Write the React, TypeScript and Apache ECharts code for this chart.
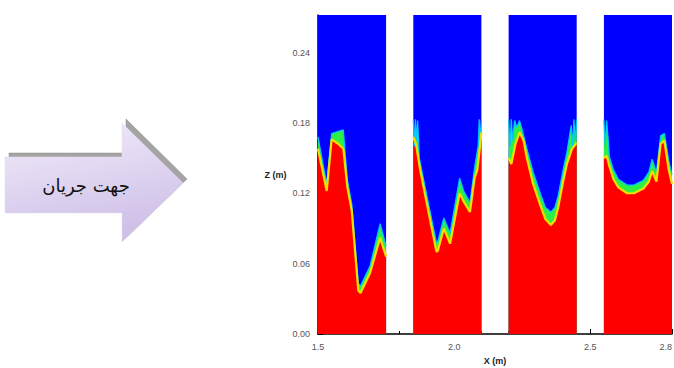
import React, { useEffect, useRef } from "react";
import * as echarts from "echarts";

// x tick labels / y tick labels
const xTicks = [1.5, 2.0, 2.5, 2.8];
const yTicks = [0.0, 0.06, 0.12, 0.18, 0.24];
const zTop = 0.272;

// panel extents (m)
const panels: [number, number][] = [
  [1.5, 1.75],
  [1.85, 2.1],
  [2.2, 2.45],
  [2.55, 2.8],
];

// red (liquid) surface per panel
const p1Red: [number, number][] = [
  [1.5, 0.158], [1.532, 0.122], [1.55, 0.166], [1.575, 0.162], [1.593, 0.158], [1.608, 0.125], [1.624, 0.105],
  [1.648, 0.037], [1.656, 0.035], [1.691, 0.052], [1.728, 0.082], [1.75, 0.066],
];
const p2Red: [number, number][] = [
  [1.85, 0.168], [1.86, 0.162], [1.875, 0.14], [1.905, 0.105], [1.935, 0.07], [1.94, 0.071],
  [1.962, 0.09], [1.985, 0.077], [2.02, 0.12], [2.035, 0.113], [2.058, 0.104], [2.075, 0.133],
  [2.085, 0.14], [2.095, 0.16], [2.1, 0.172],
];
const p3Red: [number, number][] = [
  [2.2, 0.15], [2.21, 0.145], [2.225, 0.162], [2.24, 0.172], [2.255, 0.165], [2.267, 0.15],
  [2.29, 0.128], [2.316, 0.11], [2.335, 0.098], [2.355, 0.093], [2.37, 0.097], [2.382, 0.108],
  [2.4, 0.13], [2.414, 0.145], [2.433, 0.158], [2.45, 0.163],
];
const p4Red: [number, number][] = [
  [2.55, 0.15], [2.56, 0.152], [2.57, 0.143], [2.585, 0.132], [2.603, 0.125], [2.635, 0.12],
  [2.66, 0.12], [2.695, 0.124], [2.715, 0.13], [2.727, 0.139], [2.743, 0.13], [2.758, 0.162],
  [2.772, 0.165], [2.788, 0.14], [2.8, 0.128],
];

// top of the mixing zone (green) per panel
const p1Mix: [number, number][] = [
  [1.5, 0.168], [1.532, 0.128], [1.55, 0.171], [1.593, 0.174], [1.608, 0.131], [1.624, 0.111],
  [1.648, 0.043], [1.656, 0.041], [1.691, 0.058], [1.728, 0.094], [1.75, 0.075],
];
const p2Mix: [number, number][] = [
  [1.85, 0.183], [1.854, 0.16], [1.858, 0.183], [1.862, 0.165], [1.866, 0.182], [1.872, 0.15],
  [1.905, 0.112], [1.935, 0.078], [1.94, 0.079], [1.962, 0.099], [1.985, 0.086], [2.02, 0.133],
  [2.035, 0.122], [2.058, 0.112], [2.075, 0.142], [2.088, 0.16], [2.092, 0.183], [2.096, 0.165],
  [2.1, 0.183],
];
const p3Mix: [number, number][] = [
  [2.2, 0.183], [2.205, 0.16], [2.21, 0.183], [2.215, 0.165], [2.222, 0.182], [2.23, 0.176],
  [2.24, 0.182], [2.25, 0.174], [2.267, 0.158], [2.29, 0.138], [2.316, 0.12], [2.335, 0.108],
  [2.355, 0.104], [2.37, 0.108], [2.382, 0.118], [2.4, 0.14], [2.414, 0.155], [2.43, 0.178],
  [2.435, 0.16], [2.44, 0.183], [2.445, 0.165], [2.45, 0.183],
];
const p4Mix: [number, number][] = [
  [2.55, 0.183], [2.555, 0.16], [2.56, 0.182], [2.565, 0.168], [2.57, 0.151], [2.585, 0.14],
  [2.603, 0.132], [2.635, 0.127], [2.66, 0.127], [2.695, 0.131], [2.715, 0.138], [2.727, 0.149],
  [2.743, 0.138], [2.758, 0.169], [2.772, 0.171], [2.788, 0.148], [2.8, 0.136],
];

const redSets = [p1Red, p2Red, p3Red, p4Red];
const mixSets = [p1Mix, p2Mix, p3Mix, p4Mix];

const arrowText = "جهت جریان";

export default function App() {
  const ref = useRef<HTMLDivElement>(null);
  useEffect(() => {
    if (!ref.current) return;
    const chart = echarts.init(ref.current, null, { renderer: "svg" });
    const series: any[] = [];
    panels.forEach(([a, b]) => {
      series.push({
        type: "line",
        data: [[a, zTop], [b, zTop]],
        showSymbol: false,
        lineStyle: { width: 0 },
        areaStyle: { color: "#0000fe", opacity: 1 },
        silent: true,
      });
    });
    mixSets.forEach((d) => {
      series.push({
        type: "line",
        data: d,
        showSymbol: false,
        lineStyle: { width: 1.2, color: "#00c8ff" },
        areaStyle: { color: "#2cf046", opacity: 1 },
        silent: true,
      });
    });
    redSets.forEach((d) => {
      series.push({
        type: "line",
        data: d,
        showSymbol: false,
        lineStyle: { width: 2.2, color: "#f0e000" },
        areaStyle: { color: "#fe0000", opacity: 1 },
        silent: true,
      });
    });

    const arrowPts = [
      [5, 157], [122, 157], [122, 123], [183, 183], [122, 242], [122, 213], [5, 213],
    ];
    const shadowPts = arrowPts.map(([x, y]) => [x + 4, y - 4]);

    chart.setOption({
      animation: false,
      backgroundColor: "#ffffff",
      grid: { left: 318, right: 2, top: 15, bottom: 34, outerBoundsMode: "none", containLabel: false },
      xAxis: {
        type: "value",
        min: 1.5,
        max: 2.8,
        interval: 0.5,
        name: "X (m)",
        nameLocation: "middle",
        nameGap: 22,
        nameTextStyle: { fontSize: 9, fontWeight: "bold", color: "#222", fontFamily: "Liberation Sans" },
        axisLine: { show: true, lineStyle: { color: "#000", width: 1.5 } },
        axisTick: { show: true, inside: true, length: 5, lineStyle: { color: "#000" } },
        minorTick: { show: true, splitNumber: 5, length: 3, lineStyle: { color: "#000" } },
        splitLine: { show: false },
        axisLabel: {
          fontSize: 9,
          color: "#555",
          margin: 8,
          fontFamily: "Liberation Sans",
          alignMaxLabel: "right",
          formatter: (v: number) => (xTicks.some((t) => Math.abs(t - v) < 1e-6) ? v.toFixed(1) : ""),
        },
      },
      yAxis: {
        type: "value",
        min: 0,
        max: zTop,
        interval: 0.06,
        name: "Z (m)",
        nameLocation: "middle",
        nameRotate: 0,
        nameGap: 25,
        nameTextStyle: { fontSize: 9, fontWeight: "bold", color: "#222", fontFamily: "Liberation Sans" },
        axisLine: { show: true, lineStyle: { color: "#000", width: 1.5 } },
        axisTick: { show: true, inside: true, length: 5, lineStyle: { color: "#000" } },
        splitLine: { show: false },
        axisLabel: {
          fontSize: 9,
          color: "#555",
          margin: 8,
          fontFamily: "Liberation Sans",
          showMaxLabel: false,
          formatter: (v: number) => (yTicks.some((t) => Math.abs(t - v) < 1e-6) ? v.toFixed(2) : ""),
        },
      },
      series,
      graphic: [
        {
          type: "polygon",
          shape: { points: shadowPts },
          style: { fill: "#a4a4a4", stroke: "#8c8c8c", lineWidth: 0.5 },
          silent: true,
        },
        {
          type: "polygon",
          shape: { points: arrowPts },
          style: {
            fill: {
              type: "linear",
              x: 0,
              y: 0,
              x2: 0.3,
              y2: 1,
              colorStops: [
                { offset: 0, color: "#f2eefa" },
                { offset: 1, color: "#cfc0e8" },
              ],
            },
            stroke: "#e4dcf2",
            lineWidth: 0.5,
          },
          silent: true,
        },
        {
          type: "text",
          x: 86,
          y: 185,
          style: {
            text: arrowText,
            fontSize: 18,
            fontFamily: "DejaVu Sans",
            fill: "#111",
            textAlign: "center",
            textVerticalAlign: "middle",
          },
          silent: true,
        },
      ],
    });
    return () => chart.dispose();
  }, []);
  return (
    <div
      ref={ref}
      style={{ position: "absolute", left: 0, top: 0, width: 674, height: 368 }}
    />
  );
}
